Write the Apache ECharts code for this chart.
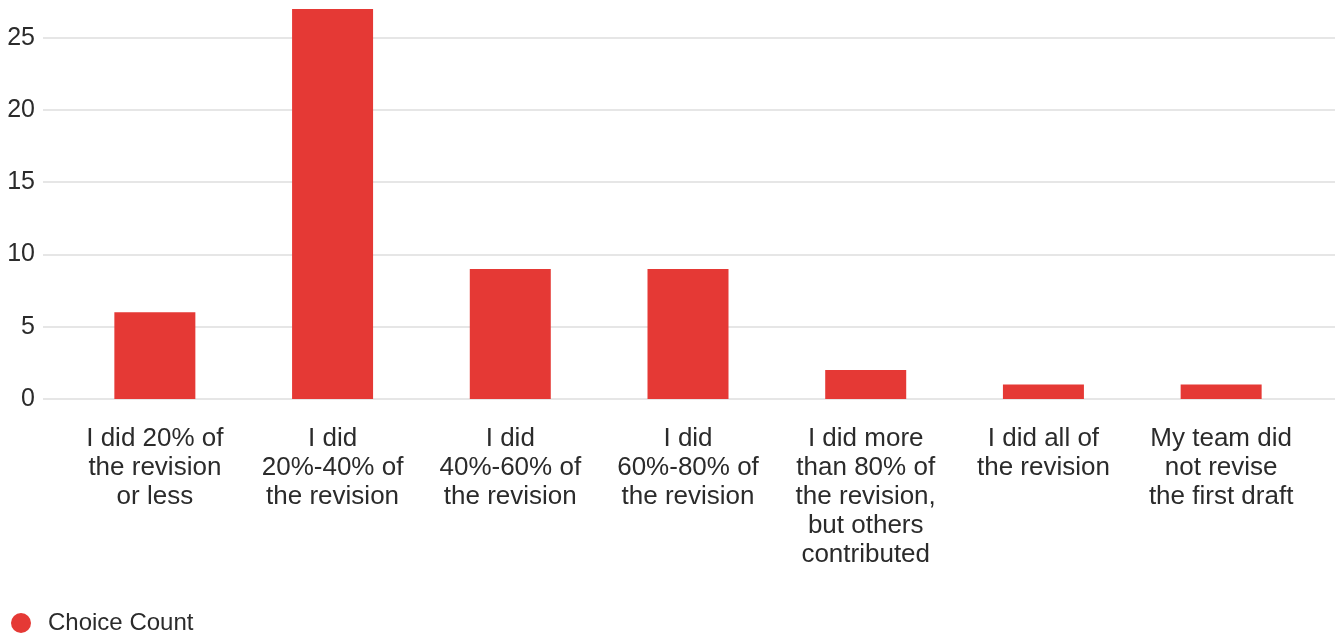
<!DOCTYPE html>
<html>
<head>
<meta charset="utf-8">
<script src="https://cdn.jsdelivr.net/npm/echarts@6/dist/echarts.min.js"></script>
<style>
html,body{margin:0;padding:0;background:#fff;}
#chart{width:1338px;height:635px;}
</style>
</head>
<body>
<div id="chart"></div>
<script>
const categories = [
  "I did 20% of\nthe revision\nor less",
  "I did\n20%-40% of\nthe revision",
  "I did\n40%-60% of\nthe revision",
  "I did\n60%-80% of\nthe revision",
  "I did more\nthan 80% of\nthe revision,\nbut others\ncontributed",
  "I did all of\nthe revision",
  "My team did\nnot revise\nthe first draft"
];
const choiceCount = [6, 27, 9, 9, 2, 1, 1];
const seriesName = "Choice Count";
const yTickMax = 25;
const yTickStep = 5;
const yDataMax = 27;

const chart = echarts.init(document.getElementById('chart'));
const font = 'Liberation Sans';
chart.setOption({
  animation: false,
  textStyle: { fontFamily: font },
  grid: [
    { left: 43, right: 3, top: 37.7, bottom: 236, containLabel: false },
    { left: 66, right: 28, top: 9, bottom: 236, containLabel: false }
  ],
  xAxis: [
    { gridIndex: 0, type: 'value', show: false, min: 0, max: 1 },
    {
      gridIndex: 1, type: 'category', data: categories,
      axisLine: { show: false }, axisTick: { show: false },
      axisLabel: { interval: 0, margin: 25, fontSize: 26, lineHeight: 29, color: '#2b2b2b', fontFamily: font, align: 'center' }
    }
  ],
  yAxis: [
    {
      gridIndex: 0, type: 'value', min: 0, max: yTickMax, interval: yTickStep,
      axisLine: { show: false }, axisTick: { show: false },
      axisLabel: { fontSize: 25, color: '#2b2b2b', margin: 8, fontFamily: font, padding: [4, 0, 0, 0] },
      splitLine: { lineStyle: { color: '#e6e6e6', width: 2 } }
    },
    { gridIndex: 1, type: 'value', min: 0, max: yDataMax, show: false, splitLine: { show: false } }
  ],
  legend: {
    data: [seriesName],
    left: 6, top: 606,
    icon: 'circle', itemWidth: 20, itemHeight: 20,
    textStyle: { fontSize: 24, color: '#2b2b2b', fontFamily: font, padding: [0, 0, 0, 12] }
  },
  series: [{
    name: seriesName, type: 'bar', xAxisIndex: 1, yAxisIndex: 1,
    data: choiceCount, barWidth: 81,
    itemStyle: { color: '#e53935' }
  }]
});
</script>
</body>
</html>
